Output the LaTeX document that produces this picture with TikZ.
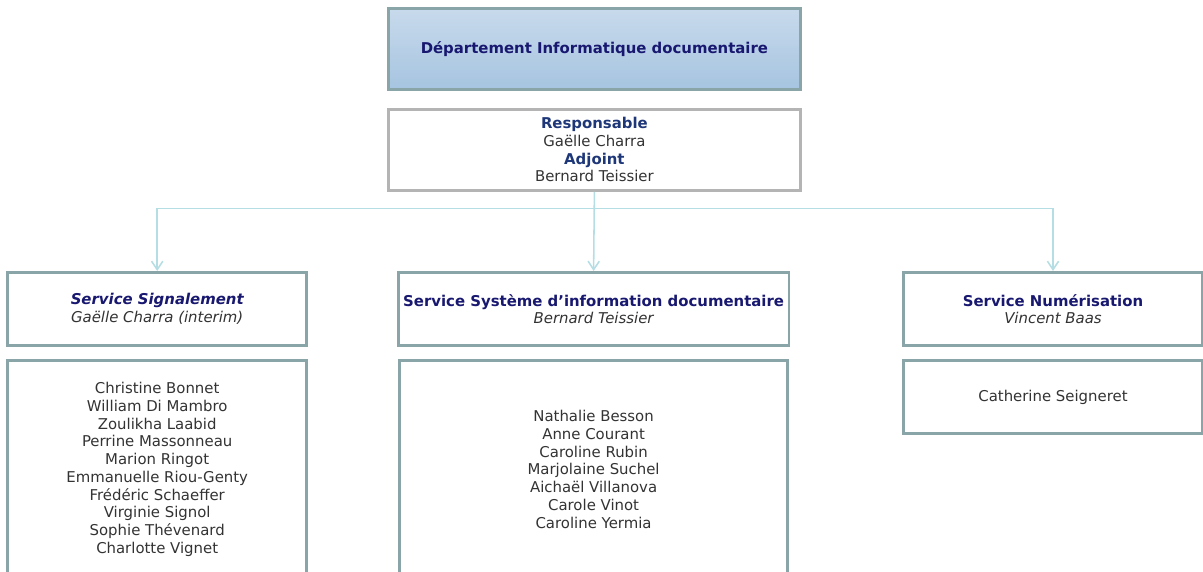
\documentclass[tikz,border=0pt]{standalone}
\usepackage{fontspec}
\setmainfont{DejaVu Sans}
\usetikzlibrary{positioning,arrows.meta}
\definecolor{orgnavy}{RGB}{24, 24, 112}
\definecolor{orgblue}{RGB}{30, 55, 120}
\definecolor{orgtext}{RGB}{51, 51, 51}
\definecolor{orgframe}{RGB}{138, 165, 168}
\definecolor{orggray}{RGB}{180, 180, 180}
\definecolor{orglink}{RGB}{180, 222, 228}
\definecolor{orgtop}{RGB}{200, 218, 236}
\definecolor{orgbottom}{RGB}{166, 196, 224}

\begin{document}
\begin{tikzpicture}[
		% Node styles
		header/.style={draw=orgframe, top color=orgtop, bottom color=orgbottom, line width=2pt,
				minimum width=10.3cm, minimum height=2.03cm, font=\bfseries, text=orgnavy, align=center},
		chief/.style={draw=orggray, fill=white, line width=2pt,
				minimum width=10.3cm, minimum height=2.03cm, text=orgtext, align=center},
		service/.style={draw=orgframe, fill=white, line width=2pt,
				minimum width=#1, minimum height=1.83cm, text=orgtext, align=center},
		staff/.style={draw=orgframe, fill=white, line width=2pt,
				minimum width=#1, text=orgtext, align=center},
		link/.style={-{Straight Barb[length=6pt, width=8pt]}, draw=orglink, line width=1.1pt},
	]
	\fontsize{10.6pt}{12.6pt}\selectfont

	% Page frame
	\useasboundingbox (0,0) rectangle (30.075,-14.275);
	\clip (0,0) rectangle (30.075,-14.275);

	% Department and heads
	\node[header] (dept) at (14.86,-1.225) {Département Informatique documentaire};
	\node[chief] (resp) [below=0.42cm of dept]
		{{\color{orgblue}\bfseries Responsable} \\ Gaëlle Charra \\ {\color{orgblue}\bfseries Adjoint} \\ Bernard Teissier};

	% Services
	\node[service=7.48cm] (sig) at (3.93,-7.725)
		{{\color{orgnavy}\bfseries\itshape Service Signalement} \\ \itshape Gaëlle Charra (interim)};
	\node[service=9.7cm] (sid) at (14.84,-7.725)
		{{\color{orgnavy}\bfseries Service Système d’information documentaire} \\ \itshape Bernard Teissier};
	\node[service=7.48cm] (num) at (26.325,-7.725)
		{{\color{orgnavy}\bfseries Service Numérisation} \\ \itshape Vincent Baas};

	% Staff lists
	\node[staff=7.48cm, minimum height=5.45cm] (sigstaff) [below=0.3cm of sig]
		{Christine Bonnet \\ William Di Mambro \\ Zoulikha Laabid \\ Perrine Massonneau \\ Marion Ringot \\
		Emmanuelle Riou-Genty \\ Frédéric Schaeffer \\ Virginie Signol \\ Sophie Thévenard \\ Charlotte Vignet};
	\node[staff=9.7cm, minimum height=5.45cm] (sidstaff) [below=0.3cm of sid]
		{Nathalie Besson \\ Anne Courant \\ Caroline Rubin \\ Marjolaine Suchel \\ Aichaël Villanova \\
		Carole Vinot \\ Caroline Yermia};
	\node[staff=7.48cm, minimum height=1.83cm] (numstaff) [below=0.3cm of num] {Catherine Seigneret};

	% Connections
	\draw[link] (resp.south) -- ++(0,-0.42) -| (sig.north);
	\draw[link] (resp.south) -- (sid.north);
	\draw[link] (resp.south) -- ++(0,-0.42) -| (num.north);

\end{tikzpicture}
\end{document}
